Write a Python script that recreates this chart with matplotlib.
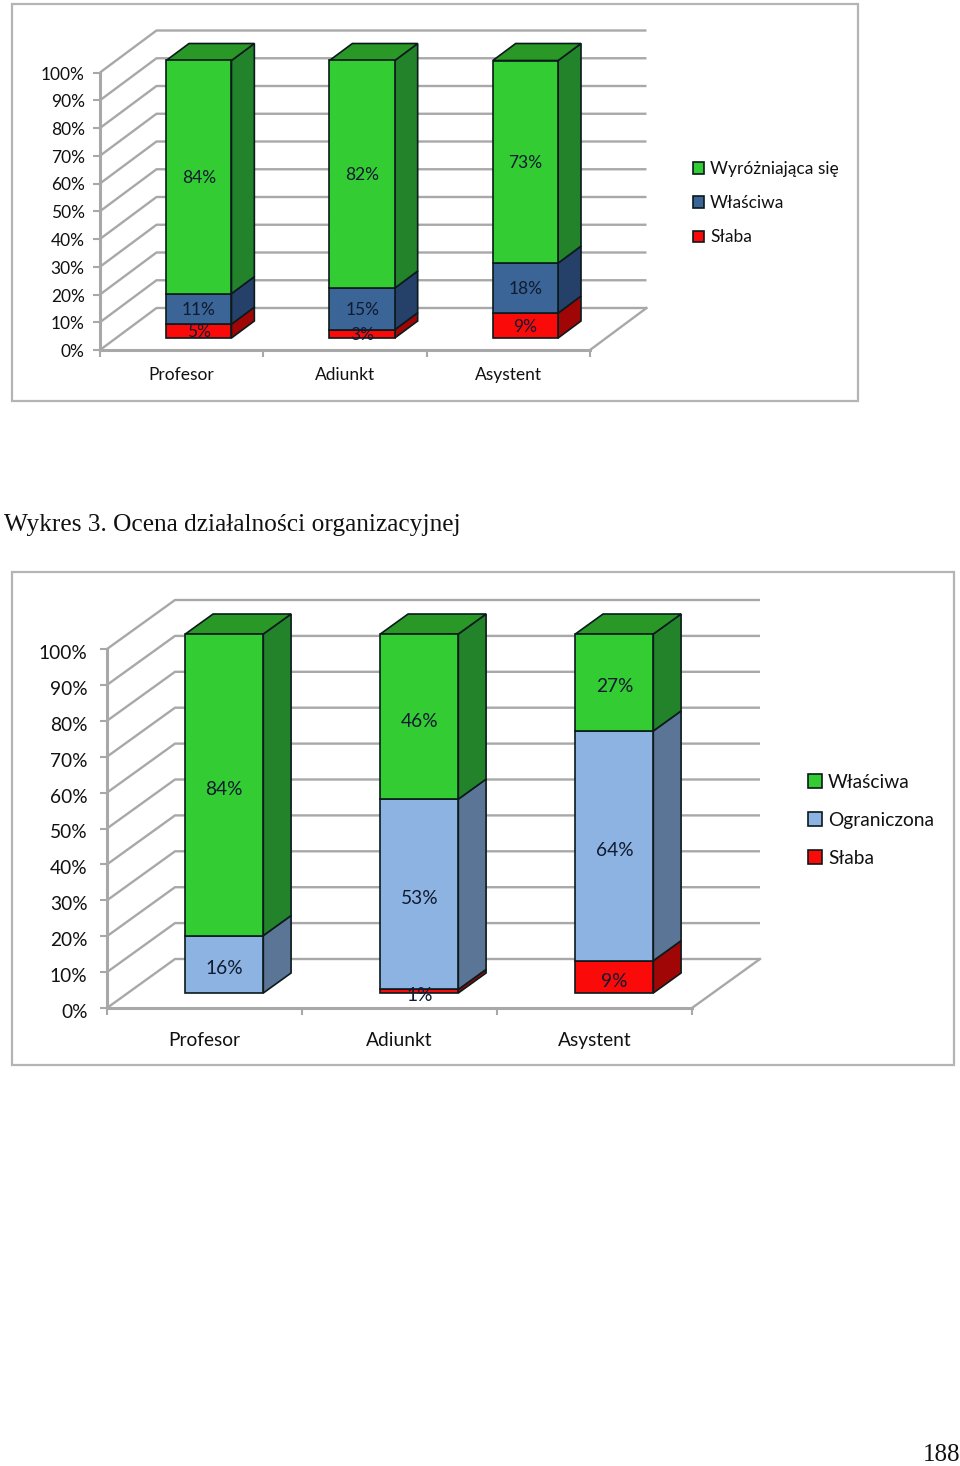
import matplotlib
matplotlib.use("Agg")
import matplotlib.pyplot as plt
from matplotlib.patches import Polygon, Patch, Rectangle
from matplotlib.transforms import ScaledTranslation

W, H = 960, 1466
plt.rcParams['font.family'] = ['Lato', 'DejaVu Sans']

categories = ['Profesor', 'Adiunkt', 'Asystent']
percent_ticks = list(range(0, 101, 10))

# Chart 1
c1_names = ['Słaba', 'Właściwa', 'Wyróżniająca się']
c1_slaba = [5, 3, 9]
c1_wlasciwa = [11, 15, 18]
c1_wyrozniajaca = [84, 82, 73]

# Chart 2
c2_names = ['Słaba', 'Ograniczona', 'Właściwa']
c2_slaba = [0, 1, 9]
c2_ograniczona = [16, 53, 64]
c2_wlasciwa = [84, 46, 27]

caption = 'Wykres 3. Ocena działalności organizacyjnej'
page_number = '188'

RED = ('#fb0a0a', '#a00606')
DKBLUE = ('#3a6596', '#25416a')
LTBLUE = ('#8db3e2', '#5b7596')
GREEN = ('#33cd33', '#23832a')
GREEN_TOP = '#2a9826'
EDGE = '#0b1a1c'
GRID = '#a8a8a8'
TXT = '#101a30'


def fig_rect(x0, y0, x1, y1):
    return [x0 / W, 1 - y1 / H, (x1 - x0) / W, (y1 - y0) / H]


def draw_chart(fig, box, frame, depth_px, bar_front, bar_back, bar_shift, series, colors, names,
               fs, legend_xy, legend_space, lab_dy, tick_pad, tick_dy, xlab_pad, hsize, hpad):
    fig.add_artist(Rectangle((frame[0] / W, 1 - frame[3] / H), (frame[2] - frame[0]) / W,
                             (frame[3] - frame[1]) / H, transform=fig.transFigure,
                             fc='white', ec='#b4b4b4', lw=1.6, zorder=-1))
    ax = fig.add_axes(fig_rect(*box))
    ax.patch.set_alpha(0)
    ax.set_xlim(0, 3)
    ax.set_ylim(0, 100)
    px_x = (box[2] - box[0]) / 3
    px_y = (box[3] - box[1]) / 100
    dx = depth_px[0] / px_x
    dy = depth_px[1] / px_y

    # walls
    for p in percent_ticks:
        ax.plot([0, dx, 3 + dx], [p, p + dy, p + dy], color=GRID, lw=1.7, zorder=1,
                clip_on=False, solid_capstyle='butt')
    ax.plot([3, 3 + dx], [0, dy], color=GRID, lw=1.7, zorder=1, clip_on=False)

    # bars
    width = 0.4
    f_x, f_y = bar_front * dx + bar_shift / px_x, bar_front * dy
    b_x, b_y = (bar_back - bar_front) * dx, (bar_back - bar_front) * dy
    for i in range(3):
        left = i + 0.5 - width / 2 + f_x
        right = left + width
        bottom = f_y
        for values, col in zip(series, colors):
            v = values[i]
            if v == 0:
                continue
            ax.add_patch(Polygon([(right, bottom), (right + b_x, bottom + b_y),
                                  (right + b_x, bottom + b_y + v), (right, bottom + v)],
                                 fc=col[1], ec=EDGE, lw=1.2, zorder=3, clip_on=False))
            ax.bar(left, v, width=width, bottom=bottom, align='edge', color=col[0],
                   edgecolor=EDGE, lw=1.2, zorder=4, clip_on=False)
            ax.text(left + width / 2, bottom + v / 2 - lab_dy / px_y, f'{v}%',
                    ha='center', va='center', fontsize=fs, color=TXT, zorder=6)
            bottom += v
        ax.add_patch(Polygon([(left, bottom), (right, bottom), (right + b_x, bottom + b_y),
                              (left + b_x, bottom + b_y)], fc=GREEN_TOP, ec=EDGE, lw=1.2,
                             zorder=3, clip_on=False))

    for s in ('top', 'right'):
        ax.spines[s].set_visible(False)
    for s in ('left', 'bottom'):
        ax.spines[s].set_color(GRID)
        ax.spines[s].set_linewidth(2.2)
        ax.spines[s].set_zorder(2)
    ax.set_yticks(percent_ticks)
    ax.set_yticklabels([f'{p}%' for p in percent_ticks], fontsize=fs, color='#111111')
    ax.tick_params(axis='y', length=5, width=1.5, color=GRID, pad=tick_pad)
    shift = ScaledTranslation(0, -tick_dy / 100, fig.dpi_scale_trans)
    for lab in ax.get_yticklabels():
        lab.set_transform(lab.get_transform() + shift)
    ax.set_xticks([0, 1, 2, 3])
    ax.set_xticklabels([])
    ax.set_xticks([0.5, 1.5, 2.5], minor=True)
    ax.set_xticklabels(categories, minor=True, fontsize=fs, color='#111111')
    ax.tick_params(axis='x', which='major', length=5, width=1.5, color=GRID)
    ax.tick_params(axis='x', which='minor', length=0, pad=xlab_pad)

    handles = [Patch(fc=c[0], ec=EDGE, lw=1.2) for c in colors][::-1]
    fig.legend(handles, names[::-1], loc='upper left',
               bbox_to_anchor=(legend_xy[0] / W, 1 - legend_xy[1] / H),
               frameon=False, fontsize=fs, handlelength=hsize, handleheight=hsize,
               handletextpad=hpad, labelspacing=legend_space, borderpad=0, borderaxespad=0,
               labelcolor='#111111')


fig = plt.figure(figsize=(W / 100, H / 100), dpi=100, facecolor='white')

draw_chart(fig, (100, 72.5, 590, 350), (12, 4, 858, 401), (56.5, 42), 12 / 42, 29 / 42, 1,
           [c1_slaba, c1_wlasciwa, c1_wyrozniajaca], [RED, DKBLUE, GREEN], c1_names,
           12.5, (693, 161), 1.05, 1, 6, 0.5, 12, 0.66, 0.32)
draw_chart(fig, (107, 649, 692, 1008), (12, 572, 954, 1065), (68, 49), 15 / 49, 35 / 49, -1,
           [c2_slaba, c2_ograniczona, c2_wlasciwa], [RED, LTBLUE, GREEN], c2_names,
           13.8, (808, 774), 1.09, 4.5, 9, 3, 17, 0.74, 0.3)

fig.text(4 / W, 1 - 531 / H, caption, family='Liberation Serif', fontsize=18.25,
         color='#111111', ha='left', va='baseline')
fig.text(960 / W, 1 - 1461 / H, page_number, family='Liberation Serif', fontsize=18,
         color='#111111', ha='right', va='baseline')

fig.savefig('out.png', dpi=100, facecolor='white')
